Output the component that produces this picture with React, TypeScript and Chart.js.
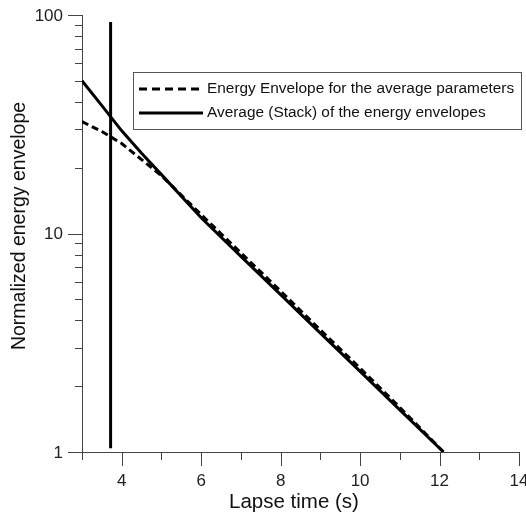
import { useEffect, useRef } from 'react';
import { Chart, registerables } from 'chart.js';
Chart.register(...registerables);

const stackTime = [3, 3.5, 4, 4.5, 5, 6, 7, 8, 9, 10, 11, 12.1];
const stackEnvelope = [50, 38.5, 29.5, 23.3, 18.6, 11.8, 7.86, 5.25, 3.5, 2.34, 1.56, 1];
const avgParamTime = [3, 3.5, 4, 4.5, 5, 6, 7, 8, 9, 10, 11, 12.1];
const avgParamEnvelope = [32.5, 29.3, 25.8, 21.8, 18.4, 12.2, 8.15, 5.45, 3.62, 2.42, 1.6, 1];
const markerTime = [3.72, 3.72];
const markerValue = [1.04, 93];

const xTickLabels = [4, 6, 8, 10, 12, 14];
const xMinorTicks = [3, 5, 7, 9, 11, 13];
const yTickLabels = [1, 10, 100];
const yMinorTicks = [2, 3, 4, 5, 6, 7, 8, 9, 20, 30, 40, 50, 60, 70, 80, 90];

const legendLabels = ['Energy Envelope for the average parameters', 'Average (Stack) of the energy envelopes'];
const xTitle = 'Lapse time (s)';
const yTitle = 'Normalized energy envelope';

const FONT = '"Liberation Sans", Arial, sans-serif';
const AXIS = '#444';

const decorPlugin = {
  id: 'decor',
  afterDraw(chart: any) {
    const ctx = chart.ctx;
    const x = chart.scales.x;
    const y = chart.scales.y;
    const area = chart.chartArea;
    ctx.save();
    ctx.strokeStyle = AXIS;
    ctx.lineWidth = 1;
    ctx.fillStyle = '#222';
    ctx.font = `17px ${FONT}`;
    // y ticks
    const yt = (v: number, len: number) => {
      const py = Math.round(y.getPixelForValue(v)) + 0.5;
      ctx.beginPath();
      ctx.moveTo(area.left - len, py);
      ctx.lineTo(area.left, py);
      ctx.stroke();
    };
    yMinorTicks.forEach((v) => yt(v, 7));
    ctx.textAlign = 'right';
    ctx.textBaseline = 'middle';
    yTickLabels.forEach((v) => {
      yt(v, 14);
      ctx.fillText(String(v), area.left - 19, y.getPixelForValue(v) + 1);
    });
    const xt = (v: number, len: number) => {
      const px = Math.round(x.getPixelForValue(v)) + 0.5;
      ctx.beginPath();
      ctx.moveTo(px, area.bottom);
      ctx.lineTo(px, area.bottom + len);
      ctx.stroke();
    };
    xMinorTicks.forEach((v) => xt(v, 8));
    ctx.textAlign = 'center';
    ctx.textBaseline = 'middle';
    xTickLabels.forEach((v) => {
      xt(v, 14);
      ctx.fillText(String(v), x.getPixelForValue(v), area.bottom + 29);
    });

    // titles
    ctx.fillStyle = '#111';
    ctx.font = `20.5px ${FONT}`;
    ctx.textAlign = 'center';
    ctx.textBaseline = 'middle';
    ctx.fillText(xTitle, 294, 502);
    ctx.save();
    ctx.font = `19.5px ${FONT}`;
    ctx.translate(20, 226);
    ctx.rotate(-Math.PI / 2);
    ctx.fillText(yTitle, 0, 0);
    ctx.restore();

    // legend
    const bx = 133.5, by = 72.5, bw = 388, bh = 57;
    ctx.fillStyle = '#fff';
    ctx.fillRect(bx, by, bw, bh);
    ctx.strokeStyle = '#555';
    ctx.lineWidth = 1;
    ctx.strokeRect(bx, by, bw, bh);
    ctx.strokeStyle = '#000';
    ctx.lineWidth = 3;
    ctx.setLineDash([8, 5]);
    ctx.beginPath();
    ctx.moveTo(139, 89);
    ctx.lineTo(203, 89);
    ctx.stroke();
    ctx.setLineDash([]);
    ctx.beginPath();
    ctx.moveTo(139, 113);
    ctx.lineTo(203, 113);
    ctx.stroke();
    ctx.fillStyle = '#111';
    ctx.font = `15.4px ${FONT}`;
    ctx.textAlign = 'left';
    ctx.textBaseline = 'middle';
    ctx.fillText(legendLabels[0], 207, 89);
    ctx.fillText(legendLabels[1], 207, 113);
    ctx.restore();
  },
};

export default function App() {
  const ref = useRef<HTMLCanvasElement | null>(null);
  useEffect(() => {
    if (!ref.current) return;
    const chart = new Chart(ref.current, {
      type: 'line',
      data: {
        datasets: [
          {
            label: legendLabels[0],
            data: avgParamTime.map((t, i) => ({ x: t, y: avgParamEnvelope[i] })),
            borderColor: '#000',
            borderWidth: 3,
            borderDash: [7, 4],
            pointRadius: 0,
            tension: 0,
          },
          {
            label: legendLabels[1],
            data: stackTime.map((t, i) => ({ x: t, y: stackEnvelope[i] })),
            borderColor: '#000',
            borderWidth: 3,
            pointRadius: 0,
            tension: 0,
          },
          {
            label: 'marker',
            data: markerTime.map((t, i) => ({ x: t, y: markerValue[i] })),
            borderColor: '#000',
            borderWidth: 3,
            pointRadius: 0,
          },
        ],
      },
      options: {
        animation: false,
        responsive: false,
        maintainAspectRatio: false,
        layout: { padding: { top: 15, right: 7, left: 0, bottom: 0 } },
        plugins: { legend: { display: false }, tooltip: { enabled: false } },
        scales: {
          x: {
            type: 'linear',
            min: 3,
            max: 14,
            afterFit: (s: any) => {
              s.height = 63;
            },
            grid: { display: false, drawTicks: false },
            border: { display: true, color: AXIS, width: 1 },
            ticks: { display: false },
          },
          y: {
            type: 'logarithmic',
            min: 1,
            max: 100,
            afterFit: (s: any) => {
              s.width = 82;
            },
            grid: { display: false, drawTicks: false },
            border: { display: true, color: AXIS, width: 1 },
            ticks: { display: false },
          },
        },
      },
      plugins: [decorPlugin],
    });
    return () => chart.destroy();
  }, []);
  return (
    <div style={{ position: 'fixed', left: 0, top: 0, width: 526, height: 515, background: '#fff' }}>
      <canvas ref={ref} width={526} height={515} style={{ width: 526, height: 515 }} />
    </div>
  );
}
